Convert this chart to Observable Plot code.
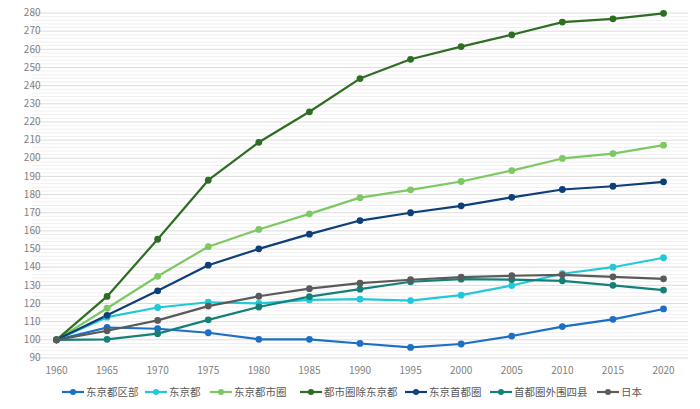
<!DOCTYPE html>
<html>
<head>
<meta charset="utf-8">
<script src="https://cdn.jsdelivr.net/npm/d3@7"></script>
<script src="https://cdn.jsdelivr.net/npm/@observablehq/plot@0.6"></script>
<style>
  html, body { margin: 0; padding: 0; background: #fff; }
  #chart svg { display: block; }
  #legend { position: relative; height: 27px; width: 700px;
    font-family: "Noto Sans CJK SC", sans-serif; font-size: 10.5px; color: #595959; }
  #legend .item { position: absolute; top: 2px; display: flex; align-items: center; white-space: nowrap; }
  #legend svg { margin-right: 2px; flex-shrink: 0; }
</style>
</head>
<body>
<div id="chart"></div>
<div id="legend"></div>
<script>
const years = [1960,1965,1970,1975,1980,1985,1990,1995,2000,2005,2010,2015,2020];
const seriesNames = ["东京都区部","东京都","东京都市圈","都市圈除东京都","东京首都圈","首都圈外围四县","日本"];
const seriesColors = ["#1c6fc4","#23c8d6","#7cc863","#2f6d23","#0e3f78","#148079","#5a5a5a"];
const ku      = [100,106.8,106.1,103.9,100.3,100.3,98.0,95.8,97.7,102.1,107.3,111.3,117.0];
const tokyo   = [100,112.5,117.8,120.7,120.1,122.0,122.4,121.6,124.6,129.9,136.4,140.0,145.2];
const metro   = [100,117.4,135.0,151.3,160.8,169.4,178.3,182.6,187.2,193.2,199.9,202.6,207.2];
const metroEx = [100,123.9,155.4,187.9,208.8,225.6,243.9,254.5,261.5,268.0,275.0,276.8,279.8];
const capital = [100,113.5,127.0,141.1,150.1,158.2,165.7,170.0,173.8,178.5,182.8,184.6,187.0];
const outer4  = [100,100.3,103.4,111.0,118.1,123.8,127.9,132.0,133.4,133.2,132.5,130.0,127.4];
const japan   = [100,105.0,110.7,118.6,124.0,128.2,131.2,133.1,134.5,135.3,135.8,134.7,133.6];
const seriesValues = [ku, tokyo, metro, metroEx, capital, outer4, japan];
const yTicks = [90,100,110,120,130,140,150,160,170,180,190,200,210,220,230,240,250,260,270,280];
const xTicks = [1960,1965,1970,1975,1980,1985,1990,1995,2000,2005,2010,2015,2020];

const data = [];
seriesNames.forEach((name, i) => {
  years.forEach((yr, j) => data.push({series: name, year: yr, value: seriesValues[i][j]}));
});
const minorTicks = d3.range(90, 281, 2).filter(v => v % 10 !== 0);

const plot = Plot.plot({
  width: 700,
  height: 382,
  marginLeft: 32,
  marginRight: 12,
  marginTop: 12.5,
  marginBottom: 24.5,
  style: {fontFamily: "'Noto Sans CJK SC', sans-serif", fontSize: "10px", color: "#7f7f7f"},
  x: {domain: [1957.63, 2022.47], ticks: xTicks, tickFormat: d => String(d), label: null},
  y: {domain: [90, 280], ticks: yTicks, label: null},
  color: {domain: seriesNames, range: seriesColors},
  marks: [
    Plot.ruleY(minorTicks, {stroke: "#f0f0f0", strokeWidth: 1}),
    Plot.ruleY(yTicks, {stroke: "#dcdcdc", strokeWidth: 1}),
    Plot.axisX({ticks: xTicks, tickFormat: d => String(d), tickSize: 0, tickPadding: 9, fill: "#7f7f7f", label: null}),
    Plot.axisY({ticks: yTicks, tickSize: 0, tickPadding: -8, fill: "#7f7f7f", label: null}),
    Plot.line(data, {x: "year", y: "value", z: "series", stroke: "series", strokeWidth: 2.2}),
    Plot.dot(data, {x: "year", y: "value", fill: "series", r: 3.4})
  ]
});
document.getElementById("chart").appendChild(plot);

const legendX = [62, 145, 210, 300, 405, 490, 597];
const legend = document.getElementById("legend");
seriesNames.forEach((name, i) => {
  const item = document.createElement("div");
  item.className = "item";
  item.style.left = legendX[i] + "px";
  item.innerHTML = `<svg width="22" height="10"><line x1="0" x2="22" y1="5" y2="5" stroke="${seriesColors[i]}" stroke-width="2.2"/><circle cx="11" cy="5" r="3" fill="${seriesColors[i]}"/></svg><span>${name}</span>`;
  legend.appendChild(item);
});
</script>
</body>
</html>
